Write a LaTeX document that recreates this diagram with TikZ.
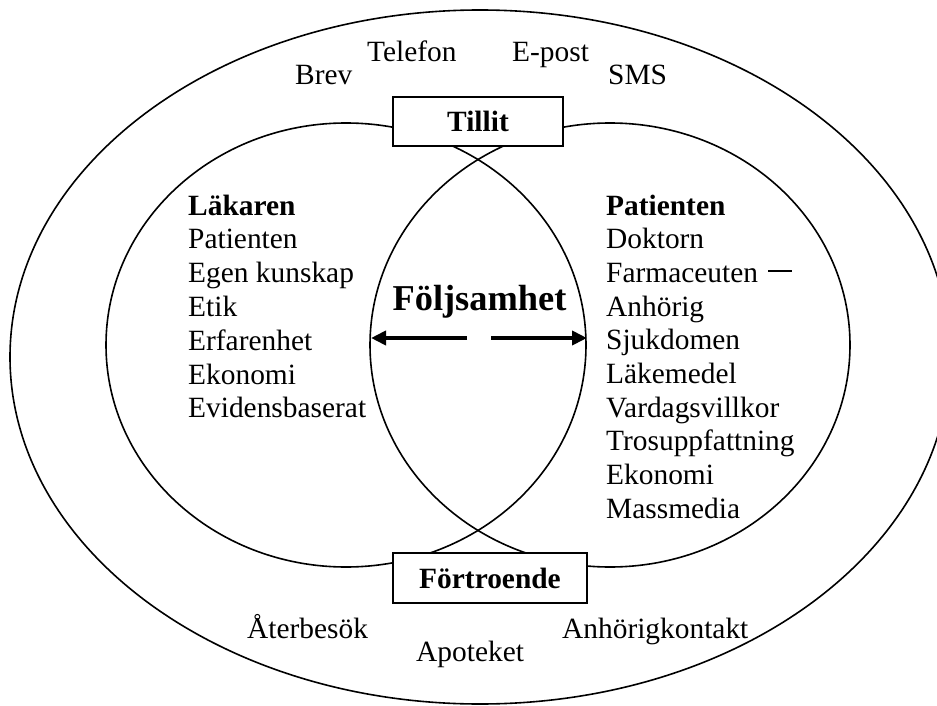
\documentclass[tikz,border=0pt]{standalone}
\usepackage{fontspec}
\setmainfont{Liberation Serif}
\usetikzlibrary{arrows.meta}
\begin{document}
\begin{tikzpicture}[x=1pt,y=-1pt,
  ring/.style={draw=black,line width=1.6pt},
  lbl/.style={inner sep=0pt,anchor=base west,font=\fontsize{29.4}{33.7}\selectfont},
  clbl/.style={inner sep=0pt,anchor=base,font=\fontsize{29.4}{33.7}\selectfont},
  boxlbl/.style={draw=black,line width=1.6pt,fill=white,minimum height=49pt,inner sep=0pt,font=\fontsize{29.4}{33.7}\selectfont\bfseries},
  bigarrow/.style={line width=4pt,-{Triangle[length=15pt,width=14pt]}}]
\useasboundingbox (0,0) rectangle (937,706);
\clip (0,0) rectangle (937,706);
% outer ellipse
\draw[ring] (480,357) ellipse [x radius=470,y radius=347];
% two inner ellipses
\draw[ring] (346,345) ellipse [x radius=240,y radius=222];
\draw[ring] (610,345) ellipse [x radius=240,y radius=222];
% boxes
\node[boxlbl,minimum width=170pt] (tillit) at (478,121.5) {Tillit};
\node[boxlbl,minimum width=194pt,minimum height=50pt] (fortr) at (490,578) {Förtroende};
% outer texts
\node[lbl] (brev) at (295,85) {Brev};
\node[lbl] (tel) at (367,62) {Telefon};
\node[lbl] (epost) at (512,62) {E-post};
\node[lbl] (sms) at (608,85) {SMS};
\node[lbl] (ater) at (247,638) {Återbesök};
\node[lbl] (apo) at (416,661) {Apoteket};
\node[lbl] (anh) at (562,638) {Anhörigkontakt};
% left list
\node[lbl,font=\fontsize{29.4}{33.7}\selectfont\bfseries] (lak) at (188,215) {Läkaren};
\foreach \t [count=\i] in {Patienten,Egen kunskap,Etik,Erfarenhet,Ekonomi,Evidensbaserat}
  \node[lbl] (L\i) at (188,215+33.8*\i) {\t};
% right list
\node[lbl,font=\fontsize{29.4}{33.7}\selectfont\bfseries] (pat) at (606,215) {Patienten};
\foreach \t [count=\i] in {Doktorn,Farmaceuten,Anhörig,Sjukdomen,Läkemedel,Vardagsvillkor,Trosuppfattning,Ekonomi,Massmedia}
  \node[lbl] (R\i) at (606,215+33.7*\i) {\t};
% stray dash
\coordinate (d1) at (768,271);
\coordinate (d2) at (792,271);
\draw[line width=2pt] (d1) -- (d2);
% centre
\node[clbl,font=\fontsize{36.4}{40}\selectfont\bfseries] (folj) at (479.5,310) {Följsamhet};
\coordinate (la) at (467,338);
\coordinate (lt) at (371,338);
\coordinate (ra) at (491,338);
\coordinate (rt) at (587,338);
\draw[bigarrow] (la) -- (lt);
\draw[bigarrow] (ra) -- (rt);
\end{tikzpicture}
\end{document}
